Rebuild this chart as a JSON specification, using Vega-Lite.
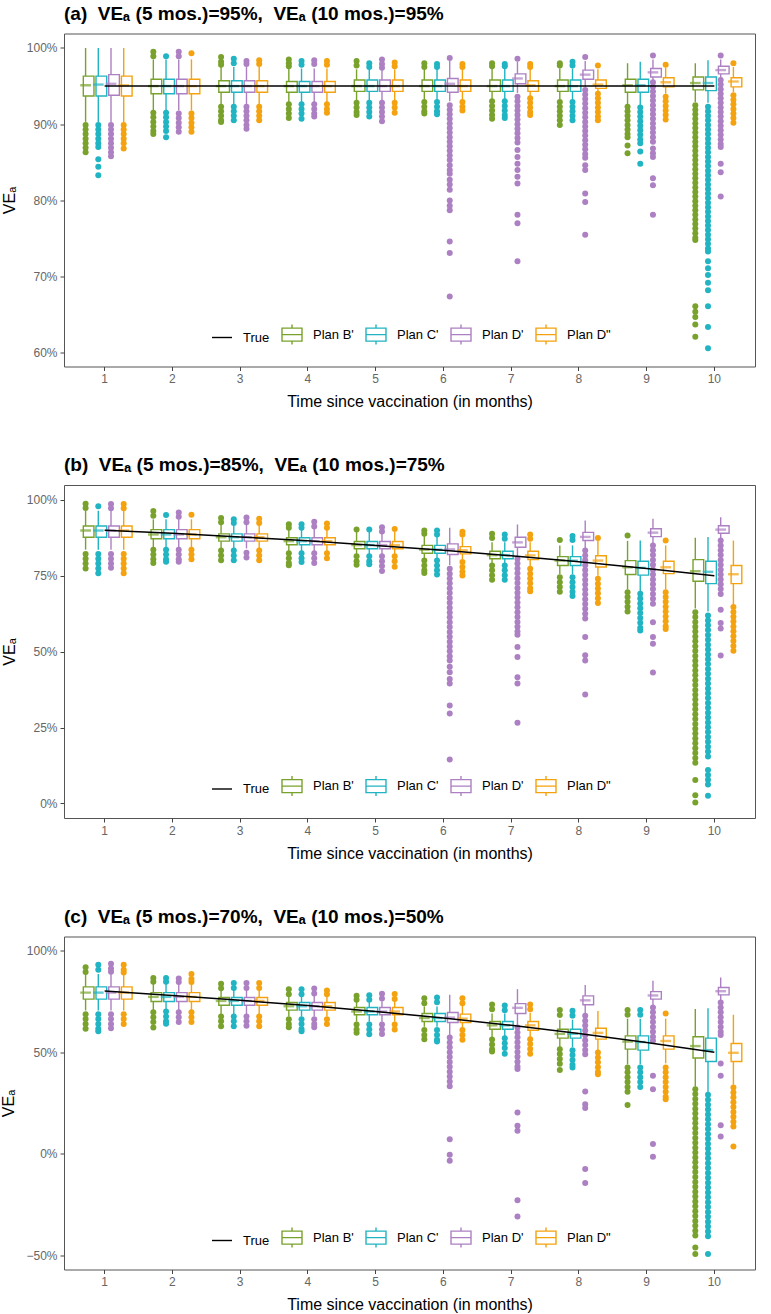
{
"$schema":"https://vega.github.io/schema/vega-lite/v6.json",
"padding":{"left":0,"top":3.5,"right":5,"bottom":2},
"spacing":44.5,
"config":{
 "font":"Liberation Sans",
 "view":{"stroke":"#555555","strokeWidth":1},
 "axis":{"grid":false,"domain":false,"tickColor":"#444444","tickSize":4,"tickWidth":1,"labelColor":"#666666","labelFontSize":12,"labelFont":"Liberation Sans","titleFont":"Liberation Sans","titleFontSize":16,"titleFontWeight":"normal","titleColor":"black","labelPadding":3},
 "axisX":{"titlePadding":9,"labelAngle":0},
 "axisY":{"titlePadding":9},
 "title":{"font":"Liberation Sans","fontSize":19,"fontWeight":"bold","anchor":"start","frame":"group","offset":10,"color":"black"},
 "legend":{"labelFont":"Liberation Sans","labelFontSize":13,"labelColor":"black"}
},
"datasets":{
"leg":[{"s":"True"},{"s":"Plan B'"},{"s":"Plan C'"},{"s":"Plan D'"},{"s":"Plan D\""}],
"ta":[{"m":1,"v":95},{"m":2,"v":95},{"m":3,"v":95},{"m":4,"v":95},{"m":5,"v":95},{"m":6,"v":95},{"m":7,"v":95},{"m":8,"v":95},{"m":9,"v":95},{"m":10,"v":95}],
"tb":[{"m":1,"v":90.0},{"m":2,"v":89.0},{"m":3,"v":87.8},{"m":4,"v":86.5},{"m":5,"v":85.0},{"m":6,"v":83.4},{"m":7,"v":81.6},{"m":8,"v":79.6},{"m":9,"v":77.4},{"m":10,"v":75.0}],
"tc":[{"m":1,"v":80.1},{"m":2,"v":77.9},{"m":3,"v":75.5},{"m":4,"v":72.9},{"m":5,"v":70.0},{"m":6,"v":66.8},{"m":7,"v":63.2},{"m":8,"v":59.2},{"m":9,"v":54.8},{"m":10,"v":50.0}],
"ba":[
{"m":1,"s":"B","lo":90.3,"q1":93.7,"md":95.1,"q3":96.3,"hi":100},{"m":1,"s":"C","lo":90.3,"q1":93.7,"md":95.2,"q3":96.3,"hi":100},{"m":1,"s":"D","lo":90.3,"q1":93.8,"md":95.3,"q3":96.5,"hi":100},{"m":1,"s":"E","lo":90.3,"q1":93.7,"md":95.1,"q3":96.3,"hi":100},
{"m":2,"s":"B","lo":91.8,"q1":94.0,"md":95.0,"q3":95.9,"hi":98.5},{"m":2,"s":"C","lo":91.8,"q1":94.0,"md":95.0,"q3":95.9,"hi":98.5},{"m":2,"s":"D","lo":91.8,"q1":94.0,"md":95.0,"q3":95.9,"hi":98.5},{"m":2,"s":"E","lo":91.8,"q1":94.0,"md":95.0,"q3":95.9,"hi":98.5},
{"m":3,"s":"B","lo":92.6,"q1":94.2,"md":95.0,"q3":95.7,"hi":97.5},{"m":3,"s":"C","lo":92.6,"q1":94.2,"md":95.0,"q3":95.7,"hi":97.5},{"m":3,"s":"D","lo":92.6,"q1":94.2,"md":95.0,"q3":95.7,"hi":97.5},{"m":3,"s":"E","lo":92.6,"q1":94.2,"md":95.0,"q3":95.7,"hi":97.5},
{"m":4,"s":"B","lo":92.9,"q1":94.2,"md":95.0,"q3":95.6,"hi":97.3},{"m":4,"s":"C","lo":92.9,"q1":94.2,"md":95.0,"q3":95.6,"hi":97.3},{"m":4,"s":"D","lo":92.9,"q1":94.2,"md":95.0,"q3":95.6,"hi":97.3},{"m":4,"s":"E","lo":92.9,"q1":94.2,"md":95.0,"q3":95.6,"hi":97.3},
{"m":5,"s":"B","lo":93.1,"q1":94.3,"md":95.0,"q3":95.8,"hi":97.2},{"m":5,"s":"C","lo":93.1,"q1":94.3,"md":95.0,"q3":95.8,"hi":97.2},{"m":5,"s":"D","lo":93.1,"q1":94.3,"md":95.0,"q3":95.8,"hi":97.2},{"m":5,"s":"E","lo":93.1,"q1":94.3,"md":95.0,"q3":95.8,"hi":97.2},
{"m":6,"s":"B","lo":93.2,"q1":94.3,"md":95.0,"q3":95.8,"hi":97.2},{"m":6,"s":"C","lo":93.2,"q1":94.3,"md":95.0,"q3":95.8,"hi":97.2},{"m":6,"s":"D","lo":93.0,"q1":94.2,"md":95.3,"q3":96.0,"hi":98.3},{"m":6,"s":"E","lo":93.2,"q1":94.3,"md":95.0,"q3":95.8,"hi":97.2},
{"m":7,"s":"B","lo":93.3,"q1":94.3,"md":95.0,"q3":95.8,"hi":97.3},{"m":7,"s":"C","lo":93.3,"q1":94.3,"md":95.0,"q3":95.8,"hi":97.3},{"m":7,"s":"D","lo":94.1,"q1":95.3,"md":96.0,"q3":96.6,"hi":98.2},{"m":7,"s":"E","lo":93.7,"q1":94.3,"md":95.1,"q3":95.7,"hi":97.2},
{"m":8,"s":"B","lo":93.2,"q1":94.3,"md":95.0,"q3":95.8,"hi":97.3},{"m":8,"s":"C","lo":93.2,"q1":94.3,"md":95.0,"q3":95.8,"hi":97.3},{"m":8,"s":"D","lo":94.9,"q1":95.9,"md":96.5,"q3":97.1,"hi":98.3},{"m":8,"s":"E","lo":94.2,"q1":94.7,"md":95.2,"q3":95.8,"hi":97.2},
{"m":9,"s":"B","lo":92.6,"q1":94.2,"md":95.1,"q3":95.9,"hi":98.0},{"m":9,"s":"C","lo":92.5,"q1":94.2,"md":95.1,"q3":95.9,"hi":98.2},{"m":9,"s":"D","lo":95.8,"q1":96.2,"md":96.8,"q3":97.3,"hi":98.5},{"m":9,"s":"E","lo":94.0,"q1":94.9,"md":95.5,"q3":96.1,"hi":97.4},
{"m":10,"s":"B","lo":92.9,"q1":94.5,"md":95.4,"q3":96.2,"hi":98.0},{"m":10,"s":"C","lo":92.8,"q1":94.4,"md":95.4,"q3":96.2,"hi":98.4},{"m":10,"s":"D","lo":96.0,"q1":96.6,"md":97.1,"q3":97.6,"hi":98.5},{"m":10,"s":"E","lo":94.2,"q1":94.9,"md":95.6,"q3":96.1,"hi":97.5}
],
"bb":[
{"m":1,"s":"B","lo":83.6,"q1":87.7,"md":89.9,"q3":91.4,"hi":96.4},{"m":1,"s":"C","lo":83.6,"q1":87.7,"md":89.9,"q3":91.4,"hi":96.4},{"m":1,"s":"D","lo":83.6,"q1":87.7,"md":89.9,"q3":91.4,"hi":96.4},{"m":1,"s":"E","lo":83.6,"q1":87.7,"md":89.9,"q3":91.4,"hi":96.4},
{"m":2,"s":"B","lo":84.4,"q1":87.2,"md":88.6,"q3":90.2,"hi":93.6},{"m":2,"s":"C","lo":84.4,"q1":87.2,"md":88.6,"q3":90.2,"hi":93.6},{"m":2,"s":"D","lo":84.4,"q1":87.2,"md":88.6,"q3":90.2,"hi":93.6},{"m":2,"s":"E","lo":84.4,"q1":87.2,"md":88.6,"q3":90.2,"hi":93.6},
{"m":3,"s":"B","lo":84.0,"q1":86.4,"md":87.7,"q3":88.8,"hi":91.8},{"m":3,"s":"C","lo":84.0,"q1":86.4,"md":87.7,"q3":88.8,"hi":91.8},{"m":3,"s":"D","lo":84.0,"q1":86.4,"md":87.7,"q3":88.8,"hi":91.8},{"m":3,"s":"E","lo":84.0,"q1":86.4,"md":87.7,"q3":88.8,"hi":91.8},
{"m":4,"s":"B","lo":83.0,"q1":85.2,"md":86.4,"q3":87.5,"hi":90.4},{"m":4,"s":"C","lo":83.0,"q1":85.2,"md":86.4,"q3":87.5,"hi":90.4},{"m":4,"s":"D","lo":83.0,"q1":85.2,"md":86.4,"q3":87.5,"hi":90.4},{"m":4,"s":"E","lo":83.0,"q1":85.2,"md":86.4,"q3":87.5,"hi":90.4},
{"m":5,"s":"B","lo":82.0,"q1":83.9,"md":85.1,"q3":86.3,"hi":89.4},{"m":5,"s":"C","lo":82.0,"q1":83.9,"md":85.1,"q3":86.3,"hi":89.4},{"m":5,"s":"D","lo":82.0,"q1":83.9,"md":85.1,"q3":86.3,"hi":89.4},{"m":5,"s":"E","lo":82.0,"q1":83.9,"md":85.1,"q3":86.3,"hi":89.4},
{"m":6,"s":"B","lo":80.6,"q1":82.4,"md":83.6,"q3":85.0,"hi":88.2},{"m":6,"s":"C","lo":80.6,"q1":82.4,"md":83.6,"q3":85.0,"hi":88.2},{"m":6,"s":"D","lo":78.5,"q1":82.0,"md":83.7,"q3":85.5,"hi":90.8},{"m":6,"s":"E","lo":80.5,"q1":82.2,"md":83.4,"q3":84.6,"hi":88.0},
{"m":7,"s":"B","lo":79.0,"q1":80.6,"md":81.8,"q3":83.1,"hi":86.0},{"m":7,"s":"C","lo":79.0,"q1":80.6,"md":81.8,"q3":83.1,"hi":86.0},{"m":7,"s":"D","lo":81.5,"q1":84.4,"md":86.0,"q3":87.7,"hi":91.9},{"m":7,"s":"E","lo":78.2,"q1":80.3,"md":81.7,"q3":83.1,"hi":86.0},
{"m":8,"s":"B","lo":75.5,"q1":78.4,"md":80.0,"q3":81.3,"hi":85.0},{"m":8,"s":"C","lo":75.5,"q1":78.4,"md":80.0,"q3":81.3,"hi":85.0},{"m":8,"s":"D","lo":84.0,"q1":86.6,"md":87.8,"q3":89.3,"hi":93.2},{"m":8,"s":"E","lo":75.0,"q1":77.9,"md":80.0,"q3":81.6,"hi":86.5},
{"m":9,"s":"B","lo":70.5,"q1":75.4,"md":77.8,"q3":80.0,"hi":86.5},{"m":9,"s":"C","lo":70.0,"q1":75.2,"md":77.6,"q3":79.8,"hi":86.6},{"m":9,"s":"D","lo":85.6,"q1":87.9,"md":89.2,"q3":90.5,"hi":93.8},{"m":9,"s":"E","lo":70.5,"q1":75.7,"md":77.8,"q3":79.8,"hi":85.0},
{"m":10,"s":"B","lo":64.2,"q1":73.2,"md":76.5,"q3":80.3,"hi":87.5},{"m":10,"s":"C","lo":63.2,"q1":72.4,"md":76.3,"q3":79.8,"hi":87.8},{"m":10,"s":"D","lo":87.2,"q1":89.0,"md":90.2,"q3":91.5,"hi":94.3},{"m":10,"s":"E","lo":65.5,"q1":72.4,"md":75.5,"q3":78.4,"hi":86.6}
],
"bc":[
{"m":1,"s":"B","lo":70.5,"q1":76.1,"md":79.3,"q3":82.1,"hi":88.4},{"m":1,"s":"C","lo":70.5,"q1":76.1,"md":79.3,"q3":82.1,"hi":88.4},{"m":1,"s":"D","lo":70.5,"q1":76.1,"md":79.3,"q3":82.1,"hi":88.4},{"m":1,"s":"E","lo":70.5,"q1":76.1,"md":79.3,"q3":82.1,"hi":88.4},
{"m":2,"s":"B","lo":70.5,"q1":74.9,"md":77.2,"q3":79.3,"hi":83.8},{"m":2,"s":"C","lo":70.5,"q1":74.9,"md":77.2,"q3":79.3,"hi":83.8},{"m":2,"s":"D","lo":70.5,"q1":74.9,"md":77.2,"q3":79.3,"hi":83.8},{"m":2,"s":"E","lo":70.5,"q1":74.9,"md":77.2,"q3":79.3,"hi":83.8},
{"m":3,"s":"B","lo":68.5,"q1":73.1,"md":75.2,"q3":76.9,"hi":80.7},{"m":3,"s":"C","lo":68.5,"q1":73.1,"md":75.2,"q3":76.9,"hi":80.7},{"m":3,"s":"D","lo":68.5,"q1":73.1,"md":75.2,"q3":76.9,"hi":80.7},{"m":3,"s":"E","lo":68.5,"q1":73.1,"md":75.2,"q3":76.9,"hi":80.7},
{"m":4,"s":"B","lo":67.5,"q1":70.7,"md":72.6,"q3":74.4,"hi":78.0},{"m":4,"s":"C","lo":67.5,"q1":70.7,"md":72.6,"q3":74.4,"hi":78.0},{"m":4,"s":"D","lo":67.5,"q1":70.7,"md":72.6,"q3":74.4,"hi":78.0},{"m":4,"s":"E","lo":67.5,"q1":70.7,"md":72.6,"q3":74.4,"hi":78.0},
{"m":5,"s":"B","lo":65.0,"q1":68.4,"md":70.0,"q3":72.0,"hi":75.0},{"m":5,"s":"C","lo":65.0,"q1":68.4,"md":70.0,"q3":72.0,"hi":75.0},{"m":5,"s":"D","lo":65.0,"q1":68.4,"md":70.0,"q3":72.0,"hi":75.0},{"m":5,"s":"E","lo":65.0,"q1":68.4,"md":70.0,"q3":72.0,"hi":75.0},
{"m":6,"s":"B","lo":62.5,"q1":65.1,"md":66.8,"q3":69.0,"hi":72.5},{"m":6,"s":"C","lo":62.5,"q1":65.1,"md":66.8,"q3":69.0,"hi":72.5},{"m":6,"s":"D","lo":58.5,"q1":64.6,"md":67.0,"q3":69.5,"hi":78.2},{"m":6,"s":"E","lo":62.0,"q1":64.6,"md":66.5,"q3":68.7,"hi":72.8},
{"m":7,"s":"B","lo":57.5,"q1":61.3,"md":63.2,"q3":65.1,"hi":69.0},{"m":7,"s":"C","lo":57.5,"q1":61.3,"md":63.2,"q3":65.1,"hi":69.0},{"m":7,"s":"D","lo":63.0,"q1":69.0,"md":71.8,"q3":73.9,"hi":81.0},{"m":7,"s":"E","lo":57.5,"q1":60.8,"md":63.2,"q3":65.1,"hi":69.4},
{"m":8,"s":"B","lo":52.5,"q1":56.9,"md":59.0,"q3":61.3,"hi":66.0},{"m":8,"s":"C","lo":52.5,"q1":56.9,"md":59.0,"q3":61.3,"hi":66.0},{"m":8,"s":"D","lo":68.5,"q1":73.3,"md":75.5,"q3":77.7,"hi":83.1},{"m":8,"s":"E","lo":51.0,"q1":56.4,"md":59.5,"q3":61.8,"hi":70.3},
{"m":9,"s":"B","lo":44.0,"q1":51.5,"md":55.2,"q3":58.0,"hi":66.5},{"m":9,"s":"C","lo":44.0,"q1":51.0,"md":55.0,"q3":58.0,"hi":66.5},{"m":9,"s":"D","lo":73.0,"q1":76.1,"md":77.9,"q3":79.8,"hi":85.1},{"m":9,"s":"E","lo":44.5,"q1":51.5,"md":55.5,"q3":58.0,"hi":66.5},
{"m":10,"s":"B","lo":33.0,"q1":47.1,"md":53.0,"q3":57.6,"hi":71.2},{"m":10,"s":"C","lo":30.0,"q1":45.4,"md":51.0,"q3":56.9,"hi":71.6},{"m":10,"s":"D","lo":75.0,"q1":78.2,"md":80.0,"q3":81.8,"hi":86.7},{"m":10,"s":"E","lo":34.0,"q1":45.4,"md":49.7,"q3":54.3,"hi":68.4}
],
"oa":[
{"m":1,"s":"B","v":89.9},{"m":1,"s":"B","v":89.3},{"m":1,"s":"B","v":88.7},{"m":1,"s":"B","v":88.1},{"m":1,"s":"B","v":87.5},{"m":1,"s":"B","v":86.9},{"m":1,"s":"B","v":86.3},
{"m":1,"s":"C","v":89.9},{"m":1,"s":"C","v":89.3},{"m":1,"s":"C","v":88.7},{"m":1,"s":"C","v":88.1},{"m":1,"s":"C","v":87.5},{"m":1,"s":"C","v":87.0},{"m":1,"s":"C","v":85.4},{"m":1,"s":"C","v":84.4},{"m":1,"s":"C","v":83.3},
{"m":1,"s":"D","v":89.9},{"m":1,"s":"D","v":89.3},{"m":1,"s":"D","v":88.7},{"m":1,"s":"D","v":88.1},{"m":1,"s":"D","v":87.5},{"m":1,"s":"D","v":86.9},{"m":1,"s":"D","v":86.3},{"m":1,"s":"D","v":85.8},
{"m":1,"s":"E","v":89.9},{"m":1,"s":"E","v":89.3},{"m":1,"s":"E","v":88.7},{"m":1,"s":"E","v":88.1},{"m":1,"s":"E","v":87.5},{"m":1,"s":"E","v":86.8},
{"m":2,"s":"B","v":99.5},{"m":2,"s":"B","v":98.9},{"m":2,"s":"B","v":91.5},{"m":2,"s":"B","v":90.9},{"m":2,"s":"B","v":90.3},{"m":2,"s":"B","v":89.7},{"m":2,"s":"B","v":89.1},{"m":2,"s":"B","v":88.7},
{"m":2,"s":"C","v":98.9},{"m":2,"s":"C","v":91.5},{"m":2,"s":"C","v":90.9},{"m":2,"s":"C","v":90.3},{"m":2,"s":"C","v":89.7},{"m":2,"s":"C","v":89.1},{"m":2,"s":"C","v":88.3},
{"m":2,"s":"D","v":99.5},{"m":2,"s":"D","v":98.9},{"m":2,"s":"D","v":91.4},{"m":2,"s":"D","v":90.8},{"m":2,"s":"D","v":90.2},{"m":2,"s":"D","v":89.6},{"m":2,"s":"D","v":89.0},
{"m":2,"s":"E","v":99.3},{"m":2,"s":"E","v":91.4},{"m":2,"s":"E","v":90.8},{"m":2,"s":"E","v":90.2},{"m":2,"s":"E","v":89.6},{"m":2,"s":"E","v":89.0},
{"m":3,"s":"B","v":98.8},{"m":3,"s":"B","v":98.2},{"m":3,"s":"B","v":97.8},{"m":3,"s":"B","v":92.3},{"m":3,"s":"B","v":91.7},{"m":3,"s":"B","v":91.1},{"m":3,"s":"B","v":90.5},{"m":3,"s":"B","v":90.3},
{"m":3,"s":"C","v":98.6},{"m":3,"s":"C","v":98.0},{"m":3,"s":"C","v":92.3},{"m":3,"s":"C","v":91.7},{"m":3,"s":"C","v":91.1},{"m":3,"s":"C","v":90.5},
{"m":3,"s":"D","v":98.3},{"m":3,"s":"D","v":97.9},{"m":3,"s":"D","v":92.3},{"m":3,"s":"D","v":91.7},{"m":3,"s":"D","v":91.1},{"m":3,"s":"D","v":90.5},{"m":3,"s":"D","v":89.9},{"m":3,"s":"D","v":89.4},
{"m":3,"s":"E","v":98.4},{"m":3,"s":"E","v":97.9},{"m":3,"s":"E","v":92.3},{"m":3,"s":"E","v":91.7},{"m":3,"s":"E","v":91.1},{"m":3,"s":"E","v":90.5},
{"m":4,"s":"B","v":98.5},{"m":4,"s":"B","v":98.0},{"m":4,"s":"B","v":97.6},{"m":4,"s":"B","v":92.6},{"m":4,"s":"B","v":92.0},{"m":4,"s":"B","v":91.4},{"m":4,"s":"B","v":90.8},
{"m":4,"s":"C","v":98.3},{"m":4,"s":"C","v":97.8},{"m":4,"s":"C","v":92.6},{"m":4,"s":"C","v":92.0},{"m":4,"s":"C","v":91.4},{"m":4,"s":"C","v":90.7},
{"m":4,"s":"D","v":98.4},{"m":4,"s":"D","v":97.9},{"m":4,"s":"D","v":92.6},{"m":4,"s":"D","v":92.0},{"m":4,"s":"D","v":91.4},{"m":4,"s":"D","v":91.0},
{"m":4,"s":"E","v":98.3},{"m":4,"s":"E","v":97.8},{"m":4,"s":"E","v":92.6},{"m":4,"s":"E","v":92.0},{"m":4,"s":"E","v":91.5},
{"m":5,"s":"B","v":98.3},{"m":5,"s":"B","v":97.7},{"m":5,"s":"B","v":92.8},{"m":5,"s":"B","v":92.2},{"m":5,"s":"B","v":91.6},{"m":5,"s":"B","v":91.2},
{"m":5,"s":"C","v":98.0},{"m":5,"s":"C","v":97.5},{"m":5,"s":"C","v":92.8},{"m":5,"s":"C","v":92.2},{"m":5,"s":"C","v":91.6},{"m":5,"s":"C","v":91.0},
{"m":5,"s":"D","v":98.5},{"m":5,"s":"D","v":97.9},{"m":5,"s":"D","v":97.4},{"m":5,"s":"D","v":92.8},{"m":5,"s":"D","v":92.2},{"m":5,"s":"D","v":91.6},{"m":5,"s":"D","v":91.0},{"m":5,"s":"D","v":90.4},
{"m":5,"s":"E","v":98.1},{"m":5,"s":"E","v":97.6},{"m":5,"s":"E","v":92.8},{"m":5,"s":"E","v":92.2},{"m":5,"s":"E","v":91.5},
{"m":6,"s":"B","v":98.0},{"m":6,"s":"B","v":97.5},{"m":6,"s":"B","v":92.9},{"m":6,"s":"B","v":92.3},{"m":6,"s":"B","v":91.7},{"m":6,"s":"B","v":91.4},
{"m":6,"s":"C","v":97.9},{"m":6,"s":"C","v":97.5},{"m":6,"s":"C","v":92.9},{"m":6,"s":"C","v":92.3},{"m":6,"s":"C","v":91.7},{"m":6,"s":"C","v":91.3},
{"m":6,"s":"D","v":98.7},{"m":6,"s":"D","v":92.5},{"m":6,"s":"D","v":91.9},{"m":6,"s":"D","v":91.3},{"m":6,"s":"D","v":90.7},{"m":6,"s":"D","v":90.1},{"m":6,"s":"D","v":89.5},{"m":6,"s":"D","v":88.9},{"m":6,"s":"D","v":88.3},{"m":6,"s":"D","v":87.7},{"m":6,"s":"D","v":87.1},{"m":6,"s":"D","v":86.5},{"m":6,"s":"D","v":85.9},{"m":6,"s":"D","v":85.3},{"m":6,"s":"D","v":84.6},{"m":6,"s":"D","v":84.0},{"m":6,"s":"D","v":83.5},{"m":6,"s":"D","v":82.7},{"m":6,"s":"D","v":82.1},{"m":6,"s":"D","v":81.4},{"m":6,"s":"D","v":80.0},{"m":6,"s":"D","v":79.3},{"m":6,"s":"D","v":78.7},{"m":6,"s":"D","v":74.6},{"m":6,"s":"D","v":73.1},{"m":6,"s":"D","v":67.4},
{"m":6,"s":"E","v":97.9},{"m":6,"s":"E","v":97.5},{"m":6,"s":"E","v":92.9},{"m":6,"s":"E","v":92.3},{"m":6,"s":"E","v":91.8},
{"m":7,"s":"B","v":98.0},{"m":7,"s":"B","v":97.6},{"m":7,"s":"B","v":93.0},{"m":7,"s":"B","v":92.4},{"m":7,"s":"B","v":91.8},{"m":7,"s":"B","v":91.2},{"m":7,"s":"B","v":90.7},
{"m":7,"s":"C","v":97.9},{"m":7,"s":"C","v":97.6},{"m":7,"s":"C","v":93.0},{"m":7,"s":"C","v":92.4},{"m":7,"s":"C","v":91.8},{"m":7,"s":"C","v":91.2},{"m":7,"s":"C","v":90.8},
{"m":7,"s":"D","v":98.6},{"m":7,"s":"D","v":93.6},{"m":7,"s":"D","v":93.0},{"m":7,"s":"D","v":92.4},{"m":7,"s":"D","v":91.8},{"m":7,"s":"D","v":91.2},{"m":7,"s":"D","v":90.6},{"m":7,"s":"D","v":90.0},{"m":7,"s":"D","v":89.4},{"m":7,"s":"D","v":88.8},{"m":7,"s":"D","v":88.2},{"m":7,"s":"D","v":87.6},{"m":7,"s":"D","v":86.6},{"m":7,"s":"D","v":85.7},{"m":7,"s":"D","v":84.8},{"m":7,"s":"D","v":84.0},{"m":7,"s":"D","v":83.1},{"m":7,"s":"D","v":82.2},{"m":7,"s":"D","v":78.1},{"m":7,"s":"D","v":77.0},{"m":7,"s":"D","v":72.0},
{"m":7,"s":"E","v":97.9},{"m":7,"s":"E","v":97.5},{"m":7,"s":"E","v":93.4},{"m":7,"s":"E","v":92.8},{"m":7,"s":"E","v":92.2},{"m":7,"s":"E","v":91.6},{"m":7,"s":"E","v":91.2},
{"m":8,"s":"B","v":98.0},{"m":8,"s":"B","v":97.7},{"m":8,"s":"B","v":92.9},{"m":8,"s":"B","v":92.3},{"m":8,"s":"B","v":91.7},{"m":8,"s":"B","v":91.1},{"m":8,"s":"B","v":90.5},{"m":8,"s":"B","v":89.9},
{"m":8,"s":"C","v":98.2},{"m":8,"s":"C","v":97.7},{"m":8,"s":"C","v":92.9},{"m":8,"s":"C","v":92.3},{"m":8,"s":"C","v":91.7},{"m":8,"s":"C","v":91.1},{"m":8,"s":"C","v":90.5},
{"m":8,"s":"D","v":98.8},{"m":8,"s":"D","v":94.5},{"m":8,"s":"D","v":93.9},{"m":8,"s":"D","v":93.3},{"m":8,"s":"D","v":92.7},{"m":8,"s":"D","v":92.1},{"m":8,"s":"D","v":91.5},{"m":8,"s":"D","v":90.9},{"m":8,"s":"D","v":90.3},{"m":8,"s":"D","v":89.7},{"m":8,"s":"D","v":89.1},{"m":8,"s":"D","v":88.5},{"m":8,"s":"D","v":87.9},{"m":8,"s":"D","v":87.3},{"m":8,"s":"D","v":86.7},{"m":8,"s":"D","v":86.1},{"m":8,"s":"D","v":85.6},{"m":8,"s":"D","v":84.6},{"m":8,"s":"D","v":84.0},{"m":8,"s":"D","v":80.9},{"m":8,"s":"D","v":79.8},{"m":8,"s":"D","v":75.5},
{"m":8,"s":"E","v":97.7},{"m":8,"s":"E","v":94.0},{"m":8,"s":"E","v":93.4},{"m":8,"s":"E","v":92.8},{"m":8,"s":"E","v":92.2},{"m":8,"s":"E","v":91.6},{"m":8,"s":"E","v":91.0},{"m":8,"s":"E","v":90.5},
{"m":9,"s":"B","v":92.3},{"m":9,"s":"B","v":91.7},{"m":9,"s":"B","v":91.1},{"m":9,"s":"B","v":90.5},{"m":9,"s":"B","v":89.9},{"m":9,"s":"B","v":89.3},{"m":9,"s":"B","v":88.7},{"m":9,"s":"B","v":88.3},{"m":9,"s":"B","v":87.2},{"m":9,"s":"B","v":86.2},
{"m":9,"s":"C","v":92.2},{"m":9,"s":"C","v":91.6},{"m":9,"s":"C","v":91.0},{"m":9,"s":"C","v":90.4},{"m":9,"s":"C","v":89.8},{"m":9,"s":"C","v":89.2},{"m":9,"s":"C","v":88.6},{"m":9,"s":"C","v":88.0},{"m":9,"s":"C","v":87.5},{"m":9,"s":"C","v":86.4},{"m":9,"s":"C","v":84.8},
{"m":9,"s":"D","v":99.0},{"m":9,"s":"D","v":95.5},{"m":9,"s":"D","v":94.9},{"m":9,"s":"D","v":94.3},{"m":9,"s":"D","v":93.7},{"m":9,"s":"D","v":93.1},{"m":9,"s":"D","v":92.5},{"m":9,"s":"D","v":91.9},{"m":9,"s":"D","v":91.3},{"m":9,"s":"D","v":90.7},{"m":9,"s":"D","v":90.1},{"m":9,"s":"D","v":89.5},{"m":9,"s":"D","v":88.9},{"m":9,"s":"D","v":88.3},{"m":9,"s":"D","v":87.7},{"m":9,"s":"D","v":86.8},{"m":9,"s":"D","v":86.2},{"m":9,"s":"D","v":85.7},{"m":9,"s":"D","v":82.9},{"m":9,"s":"D","v":82.0},{"m":9,"s":"D","v":78.1},
{"m":9,"s":"E","v":97.8},{"m":9,"s":"E","v":93.6},{"m":9,"s":"E","v":93.0},{"m":9,"s":"E","v":92.4},{"m":9,"s":"E","v":91.8},{"m":9,"s":"E","v":91.2},{"m":9,"s":"E","v":90.6},
{"m":10,"s":"B","v":92.5},{"m":10,"s":"B","v":91.9},{"m":10,"s":"B","v":91.3},{"m":10,"s":"B","v":90.7},{"m":10,"s":"B","v":90.1},{"m":10,"s":"B","v":89.5},{"m":10,"s":"B","v":88.9},{"m":10,"s":"B","v":88.3},{"m":10,"s":"B","v":87.7},{"m":10,"s":"B","v":87.1},{"m":10,"s":"B","v":86.5},{"m":10,"s":"B","v":85.9},{"m":10,"s":"B","v":85.3},{"m":10,"s":"B","v":84.7},{"m":10,"s":"B","v":84.1},{"m":10,"s":"B","v":83.5},{"m":10,"s":"B","v":82.9},{"m":10,"s":"B","v":82.3},{"m":10,"s":"B","v":81.7},{"m":10,"s":"B","v":81.1},{"m":10,"s":"B","v":80.5},{"m":10,"s":"B","v":79.9},{"m":10,"s":"B","v":79.3},{"m":10,"s":"B","v":78.7},{"m":10,"s":"B","v":78.1},{"m":10,"s":"B","v":77.5},{"m":10,"s":"B","v":76.9},{"m":10,"s":"B","v":76.3},{"m":10,"s":"B","v":75.7},{"m":10,"s":"B","v":75.1},{"m":10,"s":"B","v":74.8},{"m":10,"s":"B","v":66.1},{"m":10,"s":"B","v":65.4},{"m":10,"s":"B","v":64.7},{"m":10,"s":"B","v":63.7},{"m":10,"s":"B","v":62.1},
{"m":10,"s":"C","v":92.3},{"m":10,"s":"C","v":91.7},{"m":10,"s":"C","v":91.1},{"m":10,"s":"C","v":90.5},{"m":10,"s":"C","v":89.9},{"m":10,"s":"C","v":89.3},{"m":10,"s":"C","v":88.7},{"m":10,"s":"C","v":88.1},{"m":10,"s":"C","v":87.5},{"m":10,"s":"C","v":86.9},{"m":10,"s":"C","v":86.3},{"m":10,"s":"C","v":85.7},{"m":10,"s":"C","v":85.1},{"m":10,"s":"C","v":84.5},{"m":10,"s":"C","v":83.9},{"m":10,"s":"C","v":83.3},{"m":10,"s":"C","v":82.7},{"m":10,"s":"C","v":82.1},{"m":10,"s":"C","v":81.5},{"m":10,"s":"C","v":80.9},{"m":10,"s":"C","v":80.3},{"m":10,"s":"C","v":79.7},{"m":10,"s":"C","v":79.1},{"m":10,"s":"C","v":78.5},{"m":10,"s":"C","v":77.9},{"m":10,"s":"C","v":77.3},{"m":10,"s":"C","v":76.7},{"m":10,"s":"C","v":76.1},{"m":10,"s":"C","v":75.5},{"m":10,"s":"C","v":74.9},{"m":10,"s":"C","v":74.3},{"m":10,"s":"C","v":73.7},{"m":10,"s":"C","v":73.3},{"m":10,"s":"C","v":72.0},{"m":10,"s":"C","v":71.1},{"m":10,"s":"C","v":70.2},{"m":10,"s":"C","v":69.2},{"m":10,"s":"C","v":68.2},{"m":10,"s":"C","v":66.1},{"m":10,"s":"C","v":63.4},{"m":10,"s":"C","v":60.6},
{"m":10,"s":"D","v":99.0},{"m":10,"s":"D","v":95.8},{"m":10,"s":"D","v":95.2},{"m":10,"s":"D","v":94.6},{"m":10,"s":"D","v":94.0},{"m":10,"s":"D","v":93.4},{"m":10,"s":"D","v":92.8},{"m":10,"s":"D","v":92.2},{"m":10,"s":"D","v":91.6},{"m":10,"s":"D","v":91.0},{"m":10,"s":"D","v":90.4},{"m":10,"s":"D","v":89.8},{"m":10,"s":"D","v":89.2},{"m":10,"s":"D","v":88.6},{"m":10,"s":"D","v":88.0},{"m":10,"s":"D","v":87.4},{"m":10,"s":"D","v":87.0},{"m":10,"s":"D","v":84.8},{"m":10,"s":"D","v":83.7},{"m":10,"s":"D","v":80.5},
{"m":10,"s":"E","v":98.0},{"m":10,"s":"E","v":93.8},{"m":10,"s":"E","v":93.2},{"m":10,"s":"E","v":92.6},{"m":10,"s":"E","v":92.0},{"m":10,"s":"E","v":91.4},{"m":10,"s":"E","v":90.8},{"m":10,"s":"E","v":90.2}
],
"ob":[
{"m":1,"s":"B","v":98.7},{"m":1,"s":"B","v":97.3},{"m":1,"s":"B","v":82.2},{"m":1,"s":"B","v":80.6},{"m":1,"s":"B","v":79.0},{"m":1,"s":"B","v":77.4},
{"m":1,"s":"C","v":97.9},{"m":1,"s":"C","v":82.2},{"m":1,"s":"C","v":80.6},{"m":1,"s":"C","v":79.0},{"m":1,"s":"C","v":77.4},{"m":1,"s":"C","v":75.8},
{"m":1,"s":"D","v":98.6},{"m":1,"s":"D","v":97.2},{"m":1,"s":"D","v":82.2},{"m":1,"s":"D","v":80.6},{"m":1,"s":"D","v":79.0},{"m":1,"s":"D","v":77.6},
{"m":1,"s":"E","v":98.6},{"m":1,"s":"E","v":97.2},{"m":1,"s":"E","v":82.2},{"m":1,"s":"E","v":80.6},{"m":1,"s":"E","v":79.0},{"m":1,"s":"E","v":77.4},{"m":1,"s":"E","v":75.8},
{"m":2,"s":"B","v":96.3},{"m":2,"s":"B","v":94.8},{"m":2,"s":"B","v":83.6},{"m":2,"s":"B","v":82.0},{"m":2,"s":"B","v":80.4},{"m":2,"s":"B","v":79.2},
{"m":2,"s":"C","v":95.0},{"m":2,"s":"C","v":83.6},{"m":2,"s":"C","v":82.0},{"m":2,"s":"C","v":80.4},{"m":2,"s":"C","v":79.6},
{"m":2,"s":"D","v":95.8},{"m":2,"s":"D","v":94.4},{"m":2,"s":"D","v":83.6},{"m":2,"s":"D","v":82.0},{"m":2,"s":"D","v":80.4},{"m":2,"s":"D","v":79.6},
{"m":2,"s":"E","v":95.1},{"m":2,"s":"E","v":83.6},{"m":2,"s":"E","v":82.0},{"m":2,"s":"E","v":80.4},
{"m":3,"s":"B","v":94.0},{"m":3,"s":"B","v":92.6},{"m":3,"s":"B","v":83.3},{"m":3,"s":"B","v":81.7},{"m":3,"s":"B","v":80.1},
{"m":3,"s":"C","v":93.6},{"m":3,"s":"C","v":92.4},{"m":3,"s":"C","v":83.3},{"m":3,"s":"C","v":81.7},{"m":3,"s":"C","v":80.1},
{"m":3,"s":"D","v":94.2},{"m":3,"s":"D","v":92.6},{"m":3,"s":"D","v":82.6},{"m":3,"s":"D","v":81.0},
{"m":3,"s":"E","v":93.8},{"m":3,"s":"E","v":92.4},{"m":3,"s":"E","v":83.3},{"m":3,"s":"E","v":81.7},{"m":3,"s":"E","v":80.1},
{"m":4,"s":"B","v":92.0},{"m":4,"s":"B","v":90.8},{"m":4,"s":"B","v":82.4},{"m":4,"s":"B","v":80.8},{"m":4,"s":"B","v":79.2},{"m":4,"s":"B","v":78.5},
{"m":4,"s":"C","v":92.0},{"m":4,"s":"C","v":90.8},{"m":4,"s":"C","v":82.4},{"m":4,"s":"C","v":80.8},{"m":4,"s":"C","v":79.5},
{"m":4,"s":"D","v":92.8},{"m":4,"s":"D","v":91.2},{"m":4,"s":"D","v":82.4},{"m":4,"s":"D","v":80.8},{"m":4,"s":"D","v":79.2},
{"m":4,"s":"E","v":92.2},{"m":4,"s":"E","v":90.8},{"m":4,"s":"E","v":82.4},{"m":4,"s":"E","v":80.8},
{"m":5,"s":"B","v":90.2},{"m":5,"s":"B","v":81.4},{"m":5,"s":"B","v":79.8},{"m":5,"s":"B","v":78.6},
{"m":5,"s":"C","v":90.2},{"m":5,"s":"C","v":81.4},{"m":5,"s":"C","v":79.8},{"m":5,"s":"C","v":78.8},
{"m":5,"s":"D","v":91.0},{"m":5,"s":"D","v":89.6},{"m":5,"s":"D","v":81.4},{"m":5,"s":"D","v":79.8},{"m":5,"s":"D","v":78.2},{"m":5,"s":"D","v":76.6},
{"m":5,"s":"E","v":90.4},{"m":5,"s":"E","v":81.4},{"m":5,"s":"E","v":79.8},{"m":5,"s":"E","v":78.0},
{"m":6,"s":"B","v":89.9},{"m":6,"s":"B","v":88.8},{"m":6,"s":"B","v":80.0},{"m":6,"s":"B","v":78.4},{"m":6,"s":"B","v":76.8},{"m":6,"s":"B","v":75.9},
{"m":6,"s":"C","v":89.9},{"m":6,"s":"C","v":88.6},{"m":6,"s":"C","v":80.0},{"m":6,"s":"C","v":78.4},{"m":6,"s":"C","v":76.8},{"m":6,"s":"C","v":75.4},
{"m":6,"s":"E","v":89.5},{"m":6,"s":"E","v":88.6},{"m":6,"s":"E","v":79.5},{"m":6,"s":"E","v":77.9},{"m":6,"s":"E","v":76.3},{"m":6,"s":"E","v":75.1},
{"m":6,"s":"D","v":77.3},{"m":6,"s":"D","v":75.7},{"m":6,"s":"D","v":74.1},{"m":6,"s":"D","v":72.5},{"m":6,"s":"D","v":70.9},{"m":6,"s":"D","v":69.3},{"m":6,"s":"D","v":67.7},{"m":6,"s":"D","v":66.1},{"m":6,"s":"D","v":64.5},{"m":6,"s":"D","v":62.9},{"m":6,"s":"D","v":61.3},{"m":6,"s":"D","v":59.7},{"m":6,"s":"D","v":58.1},{"m":6,"s":"D","v":56.5},{"m":6,"s":"D","v":54.9},{"m":6,"s":"D","v":53.3},{"m":6,"s":"D","v":51.7},{"m":6,"s":"D","v":50.1},{"m":6,"s":"D","v":48.5},{"m":6,"s":"D","v":47.1},{"m":6,"s":"D","v":45.0},{"m":6,"s":"D","v":43.2},{"m":6,"s":"D","v":41.0},{"m":6,"s":"D","v":39.5},{"m":6,"s":"D","v":32.3},{"m":6,"s":"D","v":29.6},{"m":6,"s":"D","v":14.5},
{"m":7,"s":"B","v":88.8},{"m":7,"s":"B","v":87.4},{"m":7,"s":"B","v":78.4},{"m":7,"s":"B","v":76.8},{"m":7,"s":"B","v":75.2},{"m":7,"s":"B","v":73.7},
{"m":7,"s":"C","v":88.6},{"m":7,"s":"C","v":87.2},{"m":7,"s":"C","v":78.4},{"m":7,"s":"C","v":76.8},{"m":7,"s":"C","v":75.2},{"m":7,"s":"C","v":73.7},
{"m":7,"s":"E","v":88.6},{"m":7,"s":"E","v":87.2},{"m":7,"s":"E","v":77.3},{"m":7,"s":"E","v":75.7},{"m":7,"s":"E","v":74.1},{"m":7,"s":"E","v":72.5},{"m":7,"s":"E","v":70.9},{"m":7,"s":"E","v":69.9},
{"m":7,"s":"D","v":80.6},{"m":7,"s":"D","v":79.0},{"m":7,"s":"D","v":77.4},{"m":7,"s":"D","v":75.8},{"m":7,"s":"D","v":74.2},{"m":7,"s":"D","v":72.6},{"m":7,"s":"D","v":71.0},{"m":7,"s":"D","v":69.4},{"m":7,"s":"D","v":67.8},{"m":7,"s":"D","v":66.2},{"m":7,"s":"D","v":64.6},{"m":7,"s":"D","v":63.0},{"m":7,"s":"D","v":61.4},{"m":7,"s":"D","v":59.8},{"m":7,"s":"D","v":58.2},{"m":7,"s":"D","v":56.6},{"m":7,"s":"D","v":55.6},{"m":7,"s":"D","v":51.5},{"m":7,"s":"D","v":48.2},{"m":7,"s":"D","v":41.6},{"m":7,"s":"D","v":39.5},{"m":7,"s":"D","v":26.6},
{"m":8,"s":"B","v":86.8},{"m":8,"s":"B","v":74.5},{"m":8,"s":"B","v":72.9},{"m":8,"s":"B","v":71.3},{"m":8,"s":"B","v":69.7},
{"m":8,"s":"C","v":88.1},{"m":8,"s":"C","v":86.8},{"m":8,"s":"C","v":74.5},{"m":8,"s":"C","v":72.9},{"m":8,"s":"C","v":71.3},{"m":8,"s":"C","v":69.7},{"m":8,"s":"C","v":68.3},
{"m":8,"s":"E","v":87.4},{"m":8,"s":"E","v":74.0},{"m":8,"s":"E","v":72.4},{"m":8,"s":"E","v":70.8},{"m":8,"s":"E","v":69.2},{"m":8,"s":"E","v":67.6},{"m":8,"s":"E","v":66.0},
{"m":8,"s":"D","v":83.3},{"m":8,"s":"D","v":81.7},{"m":8,"s":"D","v":80.1},{"m":8,"s":"D","v":78.5},{"m":8,"s":"D","v":76.9},{"m":8,"s":"D","v":75.3},{"m":8,"s":"D","v":73.7},{"m":8,"s":"D","v":72.1},{"m":8,"s":"D","v":70.5},{"m":8,"s":"D","v":68.9},{"m":8,"s":"D","v":67.3},{"m":8,"s":"D","v":65.7},{"m":8,"s":"D","v":64.1},{"m":8,"s":"D","v":62.5},{"m":8,"s":"D","v":60.9},{"m":8,"s":"D","v":54.8},{"m":8,"s":"D","v":48.8},{"m":8,"s":"D","v":47.1},{"m":8,"s":"D","v":35.9},
{"m":9,"s":"B","v":88.3},{"m":9,"s":"B","v":69.6},{"m":9,"s":"B","v":68.0},{"m":9,"s":"B","v":66.4},{"m":9,"s":"B","v":64.8},{"m":9,"s":"B","v":63.2},
{"m":9,"s":"C","v":69.1},{"m":9,"s":"C","v":67.5},{"m":9,"s":"C","v":65.9},{"m":9,"s":"C","v":64.3},{"m":9,"s":"C","v":62.7},{"m":9,"s":"C","v":61.1},{"m":9,"s":"C","v":59.5},{"m":9,"s":"C","v":57.9},{"m":9,"s":"C","v":57.0},
{"m":9,"s":"E","v":86.6},{"m":9,"s":"E","v":69.6},{"m":9,"s":"E","v":68.0},{"m":9,"s":"E","v":66.4},{"m":9,"s":"E","v":64.8},{"m":9,"s":"E","v":63.2},{"m":9,"s":"E","v":61.6},{"m":9,"s":"E","v":60.0},{"m":9,"s":"E","v":58.4},{"m":9,"s":"E","v":57.5},
{"m":9,"s":"D","v":85.0},{"m":9,"s":"D","v":83.4},{"m":9,"s":"D","v":81.8},{"m":9,"s":"D","v":80.2},{"m":9,"s":"D","v":78.6},{"m":9,"s":"D","v":77.0},{"m":9,"s":"D","v":75.4},{"m":9,"s":"D","v":73.8},{"m":9,"s":"D","v":72.2},{"m":9,"s":"D","v":70.6},{"m":9,"s":"D","v":69.0},{"m":9,"s":"D","v":67.4},{"m":9,"s":"D","v":65.8},{"m":9,"s":"D","v":59.7},{"m":9,"s":"D","v":54.8},{"m":9,"s":"D","v":52.6},{"m":9,"s":"D","v":43.1},
{"m":10,"s":"B","v":63.0},{"m":10,"s":"B","v":61.4},{"m":10,"s":"B","v":59.8},{"m":10,"s":"B","v":58.2},{"m":10,"s":"B","v":56.6},{"m":10,"s":"B","v":55.0},{"m":10,"s":"B","v":53.4},{"m":10,"s":"B","v":51.8},{"m":10,"s":"B","v":50.2},{"m":10,"s":"B","v":48.6},{"m":10,"s":"B","v":47.0},{"m":10,"s":"B","v":45.4},{"m":10,"s":"B","v":43.8},{"m":10,"s":"B","v":42.2},{"m":10,"s":"B","v":40.6},{"m":10,"s":"B","v":39.0},{"m":10,"s":"B","v":37.4},{"m":10,"s":"B","v":35.8},{"m":10,"s":"B","v":34.2},{"m":10,"s":"B","v":32.6},{"m":10,"s":"B","v":31.0},{"m":10,"s":"B","v":29.4},{"m":10,"s":"B","v":27.8},{"m":10,"s":"B","v":26.2},{"m":10,"s":"B","v":24.6},{"m":10,"s":"B","v":23.0},{"m":10,"s":"B","v":21.4},{"m":10,"s":"B","v":19.8},{"m":10,"s":"B","v":18.2},{"m":10,"s":"B","v":16.6},{"m":10,"s":"B","v":15.0},{"m":10,"s":"B","v":13.4},{"m":10,"s":"B","v":7.7},{"m":10,"s":"B","v":2.7},{"m":10,"s":"B","v":0.3},
{"m":10,"s":"C","v":61.9},{"m":10,"s":"C","v":60.3},{"m":10,"s":"C","v":58.7},{"m":10,"s":"C","v":57.1},{"m":10,"s":"C","v":55.5},{"m":10,"s":"C","v":53.9},{"m":10,"s":"C","v":52.3},{"m":10,"s":"C","v":50.7},{"m":10,"s":"C","v":49.1},{"m":10,"s":"C","v":47.5},{"m":10,"s":"C","v":45.9},{"m":10,"s":"C","v":44.3},{"m":10,"s":"C","v":42.7},{"m":10,"s":"C","v":41.1},{"m":10,"s":"C","v":39.5},{"m":10,"s":"C","v":37.9},{"m":10,"s":"C","v":36.3},{"m":10,"s":"C","v":34.7},{"m":10,"s":"C","v":33.1},{"m":10,"s":"C","v":31.5},{"m":10,"s":"C","v":29.9},{"m":10,"s":"C","v":28.3},{"m":10,"s":"C","v":26.7},{"m":10,"s":"C","v":25.1},{"m":10,"s":"C","v":23.5},{"m":10,"s":"C","v":21.9},{"m":10,"s":"C","v":20.3},{"m":10,"s":"C","v":18.7},{"m":10,"s":"C","v":17.1},{"m":10,"s":"C","v":15.5},{"m":10,"s":"C","v":11.0},{"m":10,"s":"C","v":9.4},{"m":10,"s":"C","v":7.8},{"m":10,"s":"C","v":6.2},{"m":10,"s":"C","v":2.5},
{"m":10,"s":"D","v":86.6},{"m":10,"s":"D","v":85.0},{"m":10,"s":"D","v":83.4},{"m":10,"s":"D","v":81.8},{"m":10,"s":"D","v":80.2},{"m":10,"s":"D","v":78.6},{"m":10,"s":"D","v":77.0},{"m":10,"s":"D","v":75.4},{"m":10,"s":"D","v":73.8},{"m":10,"s":"D","v":72.2},{"m":10,"s":"D","v":70.6},{"m":10,"s":"D","v":69.0},{"m":10,"s":"D","v":63.8},{"m":10,"s":"D","v":59.4},{"m":10,"s":"D","v":57.6},{"m":10,"s":"D","v":48.7},
{"m":10,"s":"E","v":64.7},{"m":10,"s":"E","v":63.1},{"m":10,"s":"E","v":61.5},{"m":10,"s":"E","v":59.9},{"m":10,"s":"E","v":58.3},{"m":10,"s":"E","v":56.7},{"m":10,"s":"E","v":55.1},{"m":10,"s":"E","v":53.5},{"m":10,"s":"E","v":51.9},{"m":10,"s":"E","v":50.3}
],
"oc":[
{"m":1,"s":"B","v":91.8},{"m":1,"s":"B","v":89.4},{"m":1,"s":"B","v":68.7},{"m":1,"s":"B","v":66.3},{"m":1,"s":"B","v":63.9},{"m":1,"s":"B","v":61.5},
{"m":1,"s":"C","v":93.0},{"m":1,"s":"C","v":90.6},{"m":1,"s":"C","v":68.7},{"m":1,"s":"C","v":66.3},{"m":1,"s":"C","v":63.9},{"m":1,"s":"C","v":61.5},{"m":1,"s":"C","v":60.3},
{"m":1,"s":"D","v":93.5},{"m":1,"s":"D","v":91.1},{"m":1,"s":"D","v":89.5},{"m":1,"s":"D","v":68.7},{"m":1,"s":"D","v":66.3},{"m":1,"s":"D","v":63.9},{"m":1,"s":"D","v":61.8},
{"m":1,"s":"E","v":93.0},{"m":1,"s":"E","v":90.6},{"m":1,"s":"E","v":89.2},{"m":1,"s":"E","v":68.7},{"m":1,"s":"E","v":66.3},{"m":1,"s":"E","v":63.9},
{"m":2,"s":"B","v":86.5},{"m":2,"s":"B","v":84.6},{"m":2,"s":"B","v":69.6},{"m":2,"s":"B","v":67.2},{"m":2,"s":"B","v":64.8},{"m":2,"s":"B","v":62.1},
{"m":2,"s":"C","v":86.5},{"m":2,"s":"C","v":84.6},{"m":2,"s":"C","v":70.0},{"m":2,"s":"C","v":67.6},{"m":2,"s":"C","v":65.2},{"m":2,"s":"C","v":64.0},
{"m":2,"s":"D","v":86.2},{"m":2,"s":"D","v":84.5},{"m":2,"s":"D","v":69.6},{"m":2,"s":"D","v":67.2},{"m":2,"s":"D","v":64.8},
{"m":2,"s":"E","v":88.4},{"m":2,"s":"E","v":86.0},{"m":2,"s":"E","v":84.5},{"m":2,"s":"E","v":69.6},{"m":2,"s":"E","v":67.2},{"m":2,"s":"E","v":64.8},
{"m":3,"s":"B","v":83.6},{"m":3,"s":"B","v":81.5},{"m":3,"s":"B","v":67.6},{"m":3,"s":"B","v":65.2},{"m":3,"s":"B","v":62.8},
{"m":3,"s":"C","v":84.0},{"m":3,"s":"C","v":81.6},{"m":3,"s":"C","v":67.6},{"m":3,"s":"C","v":65.2},{"m":3,"s":"C","v":62.8},
{"m":3,"s":"D","v":84.0},{"m":3,"s":"D","v":81.6},{"m":3,"s":"D","v":67.6},{"m":3,"s":"D","v":65.2},{"m":3,"s":"D","v":63.0},
{"m":3,"s":"E","v":84.0},{"m":3,"s":"E","v":81.6},{"m":3,"s":"E","v":67.6},{"m":3,"s":"E","v":65.2},{"m":3,"s":"E","v":62.8},
{"m":4,"s":"B","v":80.9},{"m":4,"s":"B","v":78.5},{"m":4,"s":"B","v":66.2},{"m":4,"s":"B","v":63.8},{"m":4,"s":"B","v":62.2},
{"m":4,"s":"C","v":80.9},{"m":4,"s":"C","v":78.5},{"m":4,"s":"C","v":66.2},{"m":4,"s":"C","v":63.8},{"m":4,"s":"C","v":61.4},{"m":4,"s":"C","v":60.3},
{"m":4,"s":"D","v":81.3},{"m":4,"s":"D","v":78.9},{"m":4,"s":"D","v":66.2},{"m":4,"s":"D","v":63.8},{"m":4,"s":"D","v":62.2},
{"m":4,"s":"E","v":80.3},{"m":4,"s":"E","v":78.5},{"m":4,"s":"E","v":66.2},{"m":4,"s":"E","v":63.8},
{"m":5,"s":"B","v":77.7},{"m":5,"s":"B","v":75.8},{"m":5,"s":"B","v":63.6},{"m":5,"s":"B","v":61.2},{"m":5,"s":"B","v":59.6},
{"m":5,"s":"C","v":78.0},{"m":5,"s":"C","v":75.8},{"m":5,"s":"C","v":63.6},{"m":5,"s":"C","v":61.2},{"m":5,"s":"C","v":58.8},
{"m":5,"s":"D","v":78.8},{"m":5,"s":"D","v":76.4},{"m":5,"s":"D","v":63.6},{"m":5,"s":"D","v":61.2},{"m":5,"s":"D","v":58.9},
{"m":5,"s":"E","v":78.6},{"m":5,"s":"E","v":76.2},{"m":5,"s":"E","v":63.6},{"m":5,"s":"E","v":61.2},
{"m":6,"s":"B","v":76.5},{"m":6,"s":"B","v":74.1},{"m":6,"s":"B","v":60.9},{"m":6,"s":"B","v":58.5},{"m":6,"s":"B","v":56.3},
{"m":6,"s":"C","v":76.9},{"m":6,"s":"C","v":74.5},{"m":6,"s":"C","v":60.9},{"m":6,"s":"C","v":58.5},{"m":6,"s":"C","v":56.1},{"m":6,"s":"C","v":55.3},
{"m":6,"s":"E","v":76.5},{"m":6,"s":"E","v":74.1},{"m":6,"s":"E","v":60.9},{"m":6,"s":"E","v":58.5},{"m":6,"s":"E","v":56.1},
{"m":6,"s":"D","v":57.2},{"m":6,"s":"D","v":54.8},{"m":6,"s":"D","v":52.4},{"m":6,"s":"D","v":50.0},{"m":6,"s":"D","v":47.6},{"m":6,"s":"D","v":45.2},{"m":6,"s":"D","v":42.8},{"m":6,"s":"D","v":40.4},{"m":6,"s":"D","v":38.0},{"m":6,"s":"D","v":35.6},{"m":6,"s":"D","v":33.2},{"m":6,"s":"D","v":7.2},{"m":6,"s":"D","v":-0.5},{"m":6,"s":"D","v":-3.4},
{"m":7,"s":"B","v":73.5},{"m":7,"s":"B","v":71.1},{"m":7,"s":"B","v":56.2},{"m":7,"s":"B","v":53.8},{"m":7,"s":"B","v":51.4},{"m":7,"s":"B","v":50.3},
{"m":7,"s":"C","v":73.0},{"m":7,"s":"C","v":70.6},{"m":7,"s":"C","v":56.8},{"m":7,"s":"C","v":54.4},{"m":7,"s":"C","v":52.0},{"m":7,"s":"C","v":49.2},
{"m":7,"s":"E","v":73.5},{"m":7,"s":"E","v":71.1},{"m":7,"s":"E","v":56.4},{"m":7,"s":"E","v":54.0},{"m":7,"s":"E","v":51.6},{"m":7,"s":"E","v":49.2},
{"m":7,"s":"D","v":62.1},{"m":7,"s":"D","v":59.7},{"m":7,"s":"D","v":57.3},{"m":7,"s":"D","v":54.9},{"m":7,"s":"D","v":52.5},{"m":7,"s":"D","v":50.1},{"m":7,"s":"D","v":47.7},{"m":7,"s":"D","v":45.3},{"m":7,"s":"D","v":42.9},{"m":7,"s":"D","v":41.7},{"m":7,"s":"D","v":20.3},{"m":7,"s":"D","v":13.8},{"m":7,"s":"D","v":11.3},{"m":7,"s":"D","v":-22.8},{"m":7,"s":"D","v":-30.8},
{"m":8,"s":"B","v":70.7},{"m":8,"s":"B","v":68.3},{"m":8,"s":"B","v":51.5},{"m":8,"s":"B","v":49.1},{"m":8,"s":"B","v":46.7},{"m":8,"s":"B","v":44.3},{"m":8,"s":"B","v":41.2},
{"m":8,"s":"C","v":70.4},{"m":8,"s":"C","v":68.0},{"m":8,"s":"C","v":51.0},{"m":8,"s":"C","v":48.6},{"m":8,"s":"C","v":46.2},{"m":8,"s":"C","v":43.8},{"m":8,"s":"C","v":42.5},
{"m":8,"s":"E","v":49.8},{"m":8,"s":"E","v":47.4},{"m":8,"s":"E","v":45.0},{"m":8,"s":"E","v":42.6},{"m":8,"s":"E","v":40.2},{"m":8,"s":"E","v":39.2},
{"m":8,"s":"D","v":67.9},{"m":8,"s":"D","v":65.5},{"m":8,"s":"D","v":63.1},{"m":8,"s":"D","v":60.7},{"m":8,"s":"D","v":58.3},{"m":8,"s":"D","v":55.9},{"m":8,"s":"D","v":53.5},{"m":8,"s":"D","v":51.1},{"m":8,"s":"D","v":49.0},{"m":8,"s":"D","v":30.6},{"m":8,"s":"D","v":24.4},{"m":8,"s":"D","v":22.5},{"m":8,"s":"D","v":-7.5},{"m":8,"s":"D","v":-14.4},
{"m":9,"s":"B","v":70.8},{"m":9,"s":"B","v":68.4},{"m":9,"s":"B","v":42.5},{"m":9,"s":"B","v":40.1},{"m":9,"s":"B","v":37.7},{"m":9,"s":"B","v":35.3},{"m":9,"s":"B","v":32.9},{"m":9,"s":"B","v":30.5},{"m":9,"s":"B","v":24.0},
{"m":9,"s":"C","v":70.8},{"m":9,"s":"C","v":68.4},{"m":9,"s":"C","v":42.5},{"m":9,"s":"C","v":40.1},{"m":9,"s":"C","v":37.7},{"m":9,"s":"C","v":35.3},{"m":9,"s":"C","v":32.9},
{"m":9,"s":"E","v":69.0},{"m":9,"s":"E","v":42.5},{"m":9,"s":"E","v":40.1},{"m":9,"s":"E","v":37.7},{"m":9,"s":"E","v":35.3},{"m":9,"s":"E","v":32.9},{"m":9,"s":"E","v":30.5},{"m":9,"s":"E","v":28.1},{"m":9,"s":"E","v":26.9},
{"m":9,"s":"D","v":72.0},{"m":9,"s":"D","v":69.6},{"m":9,"s":"D","v":67.2},{"m":9,"s":"D","v":64.8},{"m":9,"s":"D","v":62.4},{"m":9,"s":"D","v":60.0},{"m":9,"s":"D","v":57.6},{"m":9,"s":"D","v":55.6},{"m":9,"s":"D","v":38.4},{"m":9,"s":"D","v":31.8},{"m":9,"s":"D","v":4.8},{"m":9,"s":"D","v":-1.5},
{"m":10,"s":"B","v":31.8},{"m":10,"s":"B","v":29.4},{"m":10,"s":"B","v":27.0},{"m":10,"s":"B","v":24.6},{"m":10,"s":"B","v":22.2},{"m":10,"s":"B","v":19.8},{"m":10,"s":"B","v":17.4},{"m":10,"s":"B","v":15.0},{"m":10,"s":"B","v":12.6},{"m":10,"s":"B","v":10.2},{"m":10,"s":"B","v":7.8},{"m":10,"s":"B","v":5.4},{"m":10,"s":"B","v":3.0},{"m":10,"s":"B","v":0.6},{"m":10,"s":"B","v":-1.8},{"m":10,"s":"B","v":-4.2},{"m":10,"s":"B","v":-6.6},{"m":10,"s":"B","v":-9.0},{"m":10,"s":"B","v":-11.4},{"m":10,"s":"B","v":-13.8},{"m":10,"s":"B","v":-16.2},{"m":10,"s":"B","v":-18.6},{"m":10,"s":"B","v":-21.0},{"m":10,"s":"B","v":-23.4},{"m":10,"s":"B","v":-25.8},{"m":10,"s":"B","v":-28.2},{"m":10,"s":"B","v":-30.6},{"m":10,"s":"B","v":-33.0},{"m":10,"s":"B","v":-35.4},{"m":10,"s":"B","v":-37.8},{"m":10,"s":"B","v":-40.2},{"m":10,"s":"B","v":-46.1},{"m":10,"s":"B","v":-49.3},
{"m":10,"s":"C","v":29.0},{"m":10,"s":"C","v":26.6},{"m":10,"s":"C","v":24.2},{"m":10,"s":"C","v":21.8},{"m":10,"s":"C","v":19.4},{"m":10,"s":"C","v":17.0},{"m":10,"s":"C","v":14.6},{"m":10,"s":"C","v":12.2},{"m":10,"s":"C","v":9.8},{"m":10,"s":"C","v":7.4},{"m":10,"s":"C","v":5.0},{"m":10,"s":"C","v":2.6},{"m":10,"s":"C","v":0.2},{"m":10,"s":"C","v":-2.2},{"m":10,"s":"C","v":-4.6},{"m":10,"s":"C","v":-7.0},{"m":10,"s":"C","v":-9.4},{"m":10,"s":"C","v":-11.8},{"m":10,"s":"C","v":-14.2},{"m":10,"s":"C","v":-16.6},{"m":10,"s":"C","v":-19.0},{"m":10,"s":"C","v":-21.4},{"m":10,"s":"C","v":-23.8},{"m":10,"s":"C","v":-26.2},{"m":10,"s":"C","v":-28.6},{"m":10,"s":"C","v":-31.0},{"m":10,"s":"C","v":-33.4},{"m":10,"s":"C","v":-35.8},{"m":10,"s":"C","v":-38.2},{"m":10,"s":"C","v":-40.6},{"m":10,"s":"C","v":-49.3},
{"m":10,"s":"D","v":74.4},{"m":10,"s":"D","v":72.0},{"m":10,"s":"D","v":69.6},{"m":10,"s":"D","v":67.2},{"m":10,"s":"D","v":64.8},{"m":10,"s":"D","v":62.4},{"m":10,"s":"D","v":60.0},{"m":10,"s":"D","v":58.5},{"m":10,"s":"D","v":44.4},{"m":10,"s":"D","v":38.4},{"m":10,"s":"D","v":14.1},{"m":10,"s":"D","v":8.5},
{"m":10,"s":"E","v":32.6},{"m":10,"s":"E","v":30.2},{"m":10,"s":"E","v":27.8},{"m":10,"s":"E","v":25.4},{"m":10,"s":"E","v":23.0},{"m":10,"s":"E","v":20.6},{"m":10,"s":"E","v":18.2},{"m":10,"s":"E","v":15.8},{"m":10,"s":"E","v":13.4},{"m":10,"s":"E","v":3.6}
]
},
"resolve":{"scale":{"color":"independent","stroke":"independent","shape":"independent"},"legend":{"stroke":"independent","shape":"independent"}},
"vconcat":[
{"title":{"text":"(a)\u00a0 VEₐ (5 mos.)=95%,\u00a0 VEₐ (10 mos.)=95%"},"width":691,"height":333,
"layer":[
{"data":{"name":"ba"},"mark":{"type":"rule","strokeWidth":1.4},"encoding":{
 "x":{"field":"m","type":"ordinal","scale":{"type":"band","domain":[1,2,3,4,5,6,7,8,9,10],"paddingInner":0.25,"paddingOuter":0.225},"title":"Time since vaccination (in months)"},
 "xOffset":{"field":"s","type":"nominal","scale":{"domain":["B","C","D","E"],"paddingInner":0,"paddingOuter":0}},
 "y":{"field":"lo","type":"quantitative","scale":{"domain":[58.2,101.9],"nice":false,"zero":false},"axis":{"values":[60,70,80,90,100],"labelExpr":"replace(format(datum.value,'d'),'-','−')+'%'"},"title":"VEₐ"},
 "y2":{"field":"q1"},
 "color":{"field":"s","type":"nominal","scale":{"domain":["B","C","D","E"],"range":["#79A22C","#21B4C2","#AC80C2","#F4A20F"]},"legend":null}}},
{"data":{"name":"ba"},"mark":{"type":"rule","strokeWidth":1.4},"encoding":{
 "x":{"field":"m","type":"ordinal","scale":{"type":"band"}},
 "xOffset":{"field":"s","type":"nominal"},
 "y":{"field":"q3","type":"quantitative"},"y2":{"field":"hi"},
 "color":{"field":"s","type":"nominal","legend":null}}},
{"data":{"name":"ba"},"mark":{"type":"bar","filled":false,"strokeWidth":1.4,"width":{"band":0.84}},"encoding":{
 "x":{"field":"m","type":"ordinal","scale":{"type":"band"}},
 "xOffset":{"field":"s","type":"nominal"},
 "y":{"field":"q1","type":"quantitative"},"y2":{"field":"q3"},
 "color":{"field":"s","type":"nominal","legend":null}}},
{"data":{"name":"ba"},"mark":{"type":"tick","thickness":2.4,"size":10.7},"encoding":{
 "x":{"field":"m","type":"ordinal","scale":{"type":"band"}},
 "xOffset":{"field":"s","type":"nominal"},
 "y":{"field":"md","type":"quantitative"},
 "color":{"field":"s","type":"nominal","legend":null}}},
{"data":{"name":"oa"},"mark":{"type":"point","filled":true,"size":36,"opacity":1},"encoding":{
 "x":{"field":"m","type":"ordinal","scale":{"type":"band"}},
 "xOffset":{"field":"s","type":"nominal"},
 "y":{"field":"v","type":"quantitative"},
 "color":{"field":"s","type":"nominal","legend":null}}},
{"data":{"name":"ta"},"mark":{"type":"line","color":"black","strokeWidth":1.5},"encoding":{
 "x":{"field":"m","type":"ordinal","scale":{"type":"band"}},
 "y":{"field":"v","type":"quantitative"}}},
{"data":{"name":"leg"},"mark":{"type":"point","filled":false,"opacity":0},"encoding":{
 "stroke":{"field":"s","type":"nominal","scale":{"domain":["True","Plan B'","Plan C'","Plan D'","Plan D\""],"range":["black","#79A22C","#21B4C2","#AC80C2","#F4A20F"]},
  "legend":{"orient":"none","legendX":147,"legendY":290,"direction":"horizontal","title":null,"symbolSize":400,"symbolStrokeWidth":1.4,"symbolOpacity":1,"labelFontSize":13,"labelOffset":10,"columnPadding":9,"symbolFillColor":"transparent"}},
 "shape":{"field":"s","type":"nominal","scale":{"domain":["True","Plan B'","Plan C'","Plan D'","Plan D\""],"range":["M-1,0H1","M-1,-0.65H1V0.65H-1Z M-1,0H1 M0,-0.65V-1 M0,0.65V1","M-1,-0.65H1V0.65H-1Z M-1,0H1 M0,-0.65V-1 M0,0.65V1","M-1,-0.65H1V0.65H-1Z M-1,0H1 M0,-0.65V-1 M0,0.65V1","M-1,-0.65H1V0.65H-1Z M-1,0H1 M0,-0.65V-1 M0,0.65V1"]},
  "legend":{"orient":"none","legendX":147,"legendY":290,"direction":"horizontal","title":null,"symbolSize":400,"symbolStrokeWidth":1.4,"symbolOpacity":1,"labelFontSize":13,"labelOffset":10,"columnPadding":9,"symbolFillColor":"transparent"}}}}
]},
{"title":{"text":"(b)\u00a0 VEₐ (5 mos.)=85%,\u00a0 VEₐ (10 mos.)=75%"},"width":691,"height":333,
"layer":[
{"data":{"name":"bb"},"mark":{"type":"rule","strokeWidth":1.4},"encoding":{
 "x":{"field":"m","type":"ordinal","scale":{"type":"band","domain":[1,2,3,4,5,6,7,8,9,10],"paddingInner":0.25,"paddingOuter":0.225},"title":"Time since vaccination (in months)"},
 "xOffset":{"field":"s","type":"nominal","scale":{"domain":["B","C","D","E"],"paddingInner":0,"paddingOuter":0}},
 "y":{"field":"lo","type":"quantitative","scale":{"domain":[-4.8,104.9],"nice":false,"zero":false},"axis":{"values":[0,25,50,75,100],"labelExpr":"replace(format(datum.value,'d'),'-','−')+'%'"},"title":"VEₐ"},
 "y2":{"field":"q1"},
 "color":{"field":"s","type":"nominal","scale":{"domain":["B","C","D","E"],"range":["#79A22C","#21B4C2","#AC80C2","#F4A20F"]},"legend":null}}},
{"data":{"name":"bb"},"mark":{"type":"rule","strokeWidth":1.4},"encoding":{
 "x":{"field":"m","type":"ordinal","scale":{"type":"band"}},
 "xOffset":{"field":"s","type":"nominal"},
 "y":{"field":"q3","type":"quantitative"},"y2":{"field":"hi"},
 "color":{"field":"s","type":"nominal","legend":null}}},
{"data":{"name":"bb"},"mark":{"type":"bar","filled":false,"strokeWidth":1.4,"width":{"band":0.84}},"encoding":{
 "x":{"field":"m","type":"ordinal","scale":{"type":"band"}},
 "xOffset":{"field":"s","type":"nominal"},
 "y":{"field":"q1","type":"quantitative"},"y2":{"field":"q3"},
 "color":{"field":"s","type":"nominal","legend":null}}},
{"data":{"name":"bb"},"mark":{"type":"tick","thickness":2.4,"size":10.7},"encoding":{
 "x":{"field":"m","type":"ordinal","scale":{"type":"band"}},
 "xOffset":{"field":"s","type":"nominal"},
 "y":{"field":"md","type":"quantitative"},
 "color":{"field":"s","type":"nominal","legend":null}}},
{"data":{"name":"ob"},"mark":{"type":"point","filled":true,"size":36,"opacity":1},"encoding":{
 "x":{"field":"m","type":"ordinal","scale":{"type":"band"}},
 "xOffset":{"field":"s","type":"nominal"},
 "y":{"field":"v","type":"quantitative"},
 "color":{"field":"s","type":"nominal","legend":null}}},
{"data":{"name":"tb"},"mark":{"type":"line","color":"black","strokeWidth":1.5},"encoding":{
 "x":{"field":"m","type":"ordinal","scale":{"type":"band"}},
 "y":{"field":"v","type":"quantitative"}}},
{"data":{"name":"leg"},"mark":{"type":"point","filled":false,"opacity":0},"encoding":{
 "stroke":{"field":"s","type":"nominal","scale":{"domain":["True","Plan B'","Plan C'","Plan D'","Plan D\""],"range":["black","#79A22C","#21B4C2","#AC80C2","#F4A20F"]},
  "legend":{"orient":"none","legendX":147,"legendY":290,"direction":"horizontal","title":null,"symbolSize":400,"symbolStrokeWidth":1.4,"symbolOpacity":1,"labelFontSize":13,"labelOffset":10,"columnPadding":9,"symbolFillColor":"transparent"}},
 "shape":{"field":"s","type":"nominal","scale":{"domain":["True","Plan B'","Plan C'","Plan D'","Plan D\""],"range":["M-1,0H1","M-1,-0.65H1V0.65H-1Z M-1,0H1 M0,-0.65V-1 M0,0.65V1","M-1,-0.65H1V0.65H-1Z M-1,0H1 M0,-0.65V-1 M0,0.65V1","M-1,-0.65H1V0.65H-1Z M-1,0H1 M0,-0.65V-1 M0,0.65V1","M-1,-0.65H1V0.65H-1Z M-1,0H1 M0,-0.65V-1 M0,0.65V1"]},
  "legend":{"orient":"none","legendX":147,"legendY":290,"direction":"horizontal","title":null,"symbolSize":400,"symbolStrokeWidth":1.4,"symbolOpacity":1,"labelFontSize":13,"labelOffset":10,"columnPadding":9,"symbolFillColor":"transparent"}}}}
]},
{"title":{"text":"(c)\u00a0 VEₐ (5 mos.)=70%,\u00a0 VEₐ (10 mos.)=50%"},"width":691,"height":333,
"layer":[
{"data":{"name":"bc"},"mark":{"type":"rule","strokeWidth":1.4},"encoding":{
 "x":{"field":"m","type":"ordinal","scale":{"type":"band","domain":[1,2,3,4,5,6,7,8,9,10],"paddingInner":0.25,"paddingOuter":0.225},"title":"Time since vaccination (in months)"},
 "xOffset":{"field":"s","type":"nominal","scale":{"domain":["B","C","D","E"],"paddingInner":0,"paddingOuter":0}},
 "y":{"field":"lo","type":"quantitative","scale":{"domain":[-56.9,106.9],"nice":false,"zero":false},"axis":{"values":[-50,0,50,100],"labelExpr":"replace(format(datum.value,'d'),'-','−')+'%'"},"title":"VEₐ"},
 "y2":{"field":"q1"},
 "color":{"field":"s","type":"nominal","scale":{"domain":["B","C","D","E"],"range":["#79A22C","#21B4C2","#AC80C2","#F4A20F"]},"legend":null}}},
{"data":{"name":"bc"},"mark":{"type":"rule","strokeWidth":1.4},"encoding":{
 "x":{"field":"m","type":"ordinal","scale":{"type":"band"}},
 "xOffset":{"field":"s","type":"nominal"},
 "y":{"field":"q3","type":"quantitative"},"y2":{"field":"hi"},
 "color":{"field":"s","type":"nominal","legend":null}}},
{"data":{"name":"bc"},"mark":{"type":"bar","filled":false,"strokeWidth":1.4,"width":{"band":0.84}},"encoding":{
 "x":{"field":"m","type":"ordinal","scale":{"type":"band"}},
 "xOffset":{"field":"s","type":"nominal"},
 "y":{"field":"q1","type":"quantitative"},"y2":{"field":"q3"},
 "color":{"field":"s","type":"nominal","legend":null}}},
{"data":{"name":"bc"},"mark":{"type":"tick","thickness":2.4,"size":10.7},"encoding":{
 "x":{"field":"m","type":"ordinal","scale":{"type":"band"}},
 "xOffset":{"field":"s","type":"nominal"},
 "y":{"field":"md","type":"quantitative"},
 "color":{"field":"s","type":"nominal","legend":null}}},
{"data":{"name":"oc"},"mark":{"type":"point","filled":true,"size":36,"opacity":1},"encoding":{
 "x":{"field":"m","type":"ordinal","scale":{"type":"band"}},
 "xOffset":{"field":"s","type":"nominal"},
 "y":{"field":"v","type":"quantitative"},
 "color":{"field":"s","type":"nominal","legend":null}}},
{"data":{"name":"tc"},"mark":{"type":"line","color":"black","strokeWidth":1.5},"encoding":{
 "x":{"field":"m","type":"ordinal","scale":{"type":"band"}},
 "y":{"field":"v","type":"quantitative"}}},
{"data":{"name":"leg"},"mark":{"type":"point","filled":false,"opacity":0},"encoding":{
 "stroke":{"field":"s","type":"nominal","scale":{"domain":["True","Plan B'","Plan C'","Plan D'","Plan D\""],"range":["black","#79A22C","#21B4C2","#AC80C2","#F4A20F"]},
  "legend":{"orient":"none","legendX":147,"legendY":290,"direction":"horizontal","title":null,"symbolSize":400,"symbolStrokeWidth":1.4,"symbolOpacity":1,"labelFontSize":13,"labelOffset":10,"columnPadding":9,"symbolFillColor":"transparent"}},
 "shape":{"field":"s","type":"nominal","scale":{"domain":["True","Plan B'","Plan C'","Plan D'","Plan D\""],"range":["M-1,0H1","M-1,-0.65H1V0.65H-1Z M-1,0H1 M0,-0.65V-1 M0,0.65V1","M-1,-0.65H1V0.65H-1Z M-1,0H1 M0,-0.65V-1 M0,0.65V1","M-1,-0.65H1V0.65H-1Z M-1,0H1 M0,-0.65V-1 M0,0.65V1","M-1,-0.65H1V0.65H-1Z M-1,0H1 M0,-0.65V-1 M0,0.65V1"]},
  "legend":{"orient":"none","legendX":147,"legendY":290,"direction":"horizontal","title":null,"symbolSize":400,"symbolStrokeWidth":1.4,"symbolOpacity":1,"labelFontSize":13,"labelOffset":10,"columnPadding":9,"symbolFillColor":"transparent"}}}}
]}
]
}
